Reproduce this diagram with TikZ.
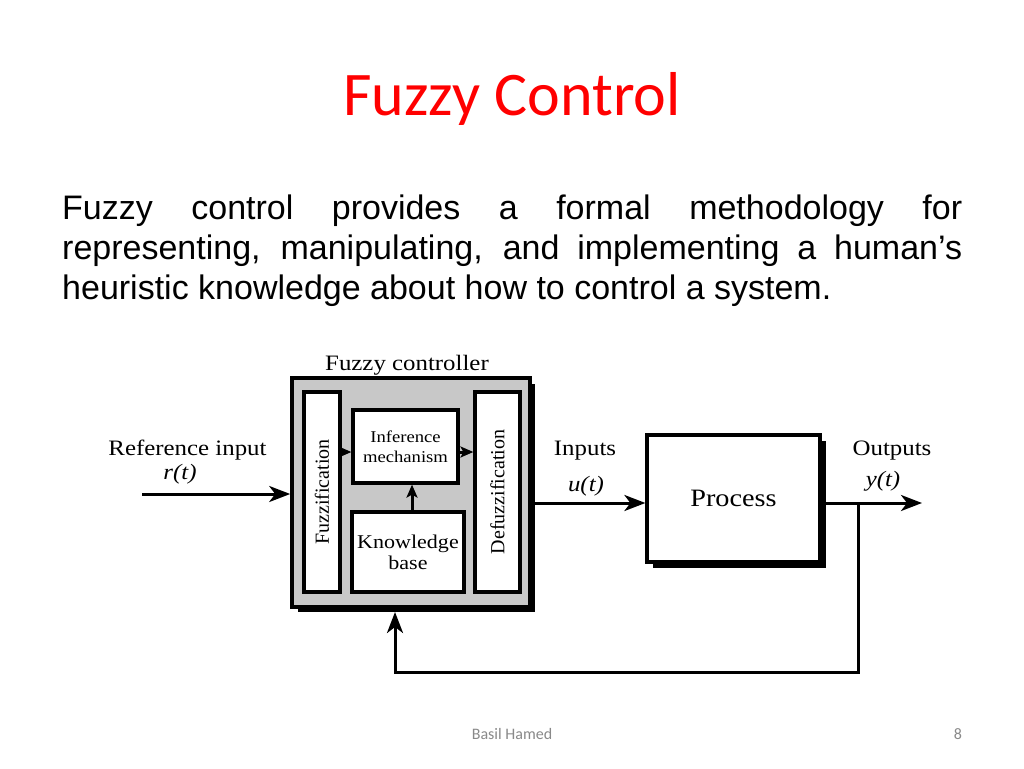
\documentclass[tikz,border=0pt]{standalone}
\usepackage{fontspec}
\setmainfont{Liberation Sans}
\newfontfamily\titlefont{Carlito}
\newfontfamily\dfont[FakeStretch=1.13]{Liberation Serif}
\newfontfamily\dfontr{Liberation Serif}
\usetikzlibrary{arrows.meta,calc}
\definecolor{titlered}{RGB}{255,0,0}
\definecolor{footgray}{RGB}{137,137,137}
\definecolor{boxgray}{RGB}{200,200,200}
\tikzset{
  blk/.style={draw, line width=3.2pt, fill=white, inner sep=0pt},
  conn/.style={line width=3pt},
  arr/.style={conn, -{Stealth[length=21pt,width=16pt,inset=6pt]}},
  sarr/.style={conn, -{Stealth[length=13pt,width=11pt,inset=3pt]}},
  lbl/.style={font=\dfont\fontsize{22}{24}\selectfont, inner sep=0pt, anchor=base},
  ilbl/.style={font=\dfont\itshape\fontsize{22}{24}\selectfont, inner sep=0pt, anchor=base},
}
\begin{document}
\begin{tikzpicture}[x=1pt,y=-1pt]
\useasboundingbox (0,0) rectangle (1024,768);
\fill[white] (0,0) rectangle (1024,768);
% title
\node[font=\titlefont\fontsize{62}{70}\selectfont, text=titlered, anchor=base, inner sep=0pt] (title) at (512,115) {Fuzzy Control};
% body text
\node[anchor=north west, inner sep=0pt, text width=900pt, align=justify,
      font=\fontsize{34}{40}\selectfont] (body) at (62,195)
 {\hyphenpenalty=10000 Fuzzy control provides a formal methodology for\linebreak representing, manipulating, and implementing a human’s\linebreak heuristic knowledge about how to control a system.};
% controller
\fill[black] (298,384) rectangle (535,612);
\node[draw, line width=3.6pt, fill=boxgray, minimum width=238pt, minimum height=229pt, inner sep=0pt] (ctrl) at (411,492.5) {};
\coordinate (ctrlsh) at (395,612);
\node[lbl] (ctrllbl) at (407,370) {Fuzzy controller};
\node[blk, minimum width=36pt, minimum height=200pt] (fuzz) at (322,492) {};
\node[font=\dfontr\fontsize{20}{22}\selectfont, rotate=90, inner sep=0pt] (fuzztxt) at (fuzz) {Fuzzification};
\node[blk, minimum width=45pt, minimum height=200pt] (defuzz) at (497.5,492) {};
\node[font=\dfontr\fontsize{20}{22}\selectfont, rotate=90, inner sep=0pt] (defuzztxt) at (defuzz) {Defuzzification};
\node[blk, minimum width=105pt, minimum height=73pt, align=center,
      font=\dfont\fontsize{16.5}{20}\selectfont] (inf) at (405.5,446.5) {Inference\\mechanism};
\node[blk, minimum width=112pt, minimum height=80pt, align=center,
      font=\dfont\fontsize{19.5}{21}\selectfont] (kb) at (408,552) {Knowledge\\base};
\coordinate (ia) at (0,452);
\draw[sarr] (fuzz.east |- ia) -- (inf.west |- ia);
\draw[sarr] (inf.east |- ia) -- (defuzz.west |- ia);
\draw[sarr] ([xshift=4pt]kb.north) -- ([xshift=4pt]kb.north |- inf.south);
% process
\fill[black] (653,441) rectangle (826,568);
\node[blk, line width=3.2pt, minimum width=173pt, minimum height=127pt,
      font=\dfont\fontsize{25}{27}\selectfont] (proc) at (733.5,498.5) {Process};
% signals
\coordinate (refin) at (142,494);
\draw[arr] (refin) -- (refin -| ctrl.west);
\node[lbl] (reflbl) at (187.5,455) {Reference input};
\node[ilbl] (rt) at (180,479) {r(t)};
\coordinate (sig) at (0,503);
\draw[arr] (sig -| ctrl.east) -- (sig -| proc.west);
\node[lbl] (inlbl) at (585,455) {Inputs};
\node[ilbl] (ut) at (586,491) {u(t)};
\coordinate (out) at (922,503);
\coordinate (fb) at (858,503);
\draw[arr] (sig -| 826,0) -- (out);
\node[lbl] (outlbl) at (892,455) {Outputs};
\node[ilbl] (yt) at (883,486) {y(t)};
\coordinate (fbb) at (395,672);
\draw[arr] (fb) |- (fbb) -- (ctrlsh);
% footer
\node[font=\titlefont\fontsize{16}{18}\selectfont, text=footgray, anchor=base, inner sep=0pt] (foot) at (512,739) {Basil Hamed};
\node[font=\titlefont\fontsize{16}{18}\selectfont, text=footgray, anchor=base, inner sep=0pt] (page) at (958,739) {8};
\end{tikzpicture}
\end{document}
